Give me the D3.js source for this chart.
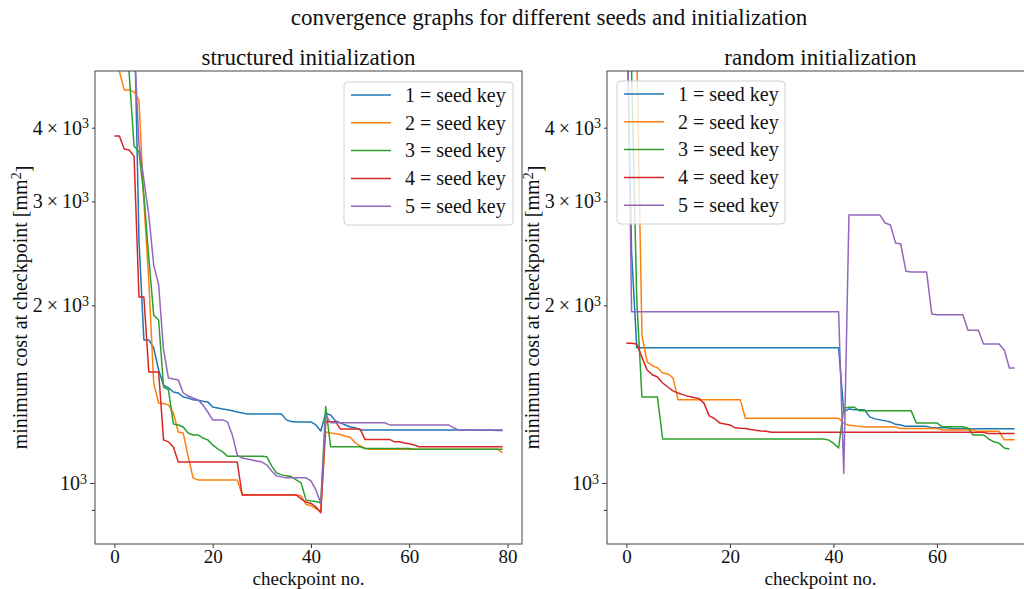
<!DOCTYPE html>
<html>
<head>
<meta charset="utf-8">
<script src="https://cdn.jsdelivr.net/npm/d3@7"></script>
<style>
  body { margin: 0; background: #fff; }
  svg { display: block; }
</style>
</head>
<body>
<svg id="chart" width="1024" height="589"></svg>
<script>
// Series names and colours (one per seed key)
const seedLabels = ["1 = seed key", "2 = seed key", "3 = seed key", "4 = seed key", "5 = seed key"];
const seedColors = ["#1f77b4", "#ff7f0e", "#2ca02c", "#d62728", "#9467bd"];

// Structured initialization: minimum cost per checkpoint 0..79
const structuredSeed1 = [9000, 8500, 8000, 7500, 6500, 2580, 1747, 1747, 1693, 1554, 1465, 1449, 1426, 1420, 1399, 1393, 1383, 1381, 1376, 1372, 1345, 1340, 1335, 1330, 1325, 1319, 1314,
  1309, 1309, 1309, 1309, 1309, 1309, 1309, 1309, 1279, 1271, 1269, 1269, 1269, 1269, 1254, 1225, 1311, 1304, 1274, 1264, 1254, 1244, 1240,
  1230, 1230, 1230, 1230, 1230, 1230, 1230, 1230, 1230, 1230, 1230, 1230, 1230, 1230, 1230, 1230, 1230, 1230, 1230, 1230, 1229, 1229, 1229, 1229, 1228, 1228, 1228, 1228, 1227, 1227];
const structuredSeed2 = [6000, 4990, 4635, 4635, 4600, 4450, 3000, 2200, 1477, 1366, 1363, 1356, 1314, 1220, 1215, 1110, 1020,
  1012, 1012, 1012, 1012, 1012, 1012, 1012, 1012, 1012,
  955, 955, 955, 955, 955, 955, 955, 955, 955, 955, 955, 955,
  950, 920, 915, 905, 895, 1220, 1215, 1212, 1208, 1200, 1195, 1170, 1155, 1145,
  1140, 1140, 1140, 1140, 1140, 1140, 1140, 1140, 1140, 1140, 1140, 1140, 1140, 1140, 1140, 1140, 1140, 1140, 1140, 1140, 1140, 1140, 1140, 1140, 1140, 1140, 1140, 1125];
const structuredSeed3 = [9000, 7500, 6000, 4950, 3725, 3640, 3075, 2403, 1925, 1889, 1454, 1438, 1259, 1254, 1244, 1215, 1206, 1206, 1192, 1183, 1160, 1142, 1130,
  1110, 1110, 1110, 1110, 1110, 1110, 1110, 1110, 1108,
  1069, 1040, 1032, 1028, 1025, 1012, 1000, 936, 932, 930, 925, 1347,
  1152, 1152, 1152, 1152, 1152, 1152, 1152,
  1144, 1144, 1144, 1144, 1144, 1144, 1144, 1144, 1144, 1144,
  1140, 1140, 1140, 1140, 1140, 1140, 1140, 1140, 1140, 1140, 1140, 1140, 1140, 1140, 1140, 1140, 1140, 1140, 1140];
const structuredSeed4 = [3874, 3874, 3680, 3667, 3580, 2066, 2066, 1542, 1542, 1542, 1183, 1174, 1151,
  1085, 1085, 1085, 1085, 1085, 1085, 1085, 1085, 1085, 1085, 1085, 1085, 1085,
  954, 954, 954, 954, 954, 954, 954, 954, 954, 954, 954, 954,
  940, 928, 923, 911, 890, 1270, 1270, 1270, 1234, 1234, 1234, 1234, 1234,
  1185, 1185, 1185, 1185, 1185, 1185, 1174, 1174, 1169, 1165, 1160,
  1152, 1152, 1152, 1152, 1152, 1152, 1152, 1152, 1152, 1152, 1152, 1152, 1152, 1152, 1152, 1152, 1152, 1152];
const structuredSeed5 = [9500, 9000, 8500, 8000, 5630, 3740, 3263, 2844, 2340, 2166, 1680, 1506, 1500, 1495, 1421, 1404, 1393, 1383, 1356, 1319,
  1279, 1279, 1279, 1269, 1206, 1115, 1102, 1098, 1094, 1089, 1085, 1073, 1048, 1028, 1024,
  1020, 1020, 1020, 1020, 1020, 1008, 973, 925, 1304,
  1265, 1265, 1265, 1265, 1265, 1265, 1265, 1265, 1265, 1265, 1265, 1265,
  1254, 1254, 1254, 1254, 1254, 1254, 1254, 1254, 1254, 1254, 1254, 1254, 1254, 1240,
  1230, 1230, 1230, 1230, 1230, 1230, 1230, 1230, 1230, 1230];

// Random initialization: minimum cost per checkpoint 0..75
const randomSeed1 = [6830, 2460,
  1695, 1695, 1695, 1695, 1695, 1695, 1695, 1695, 1695, 1695, 1695, 1695, 1695, 1695, 1695, 1695, 1695, 1695, 1695, 1695,
  1695, 1695, 1695, 1695, 1695, 1695, 1695, 1695, 1695, 1695, 1695, 1695, 1695, 1695, 1695, 1695, 1695, 1695, 1695, 1695,
  1320, 1335, 1330, 1330, 1330, 1294, 1284, 1279, 1274, 1269, 1257, 1254, 1247, 1247, 1247, 1247, 1247, 1240, 1240, 1240, 1240,
  1235, 1235, 1235, 1235, 1235, 1235, 1235, 1235, 1235, 1235, 1235, 1235, 1235];
const randomSeed2 = [8000, 7000, 5500, 1780, 1604, 1580, 1567, 1536, 1530, 1507,
  1383, 1383, 1383, 1383, 1383, 1383, 1383, 1383, 1383, 1383, 1383, 1383, 1383,
  1287, 1287, 1287, 1287, 1287, 1287, 1287, 1287, 1287, 1287, 1287, 1287, 1287, 1287, 1287, 1287, 1287, 1287, 1287,
  1262, 1252, 1250, 1247, 1244, 1244, 1244, 1244, 1244, 1244, 1244,
  1237, 1237, 1237, 1237, 1237, 1237, 1237, 1237, 1230, 1230, 1230, 1230, 1230, 1230, 1230,
  1223, 1223, 1223, 1223, 1223, 1183, 1183, 1183];
const randomSeed3 = [9000, 4990, 2043, 1398, 1398, 1398, 1398,
  1187, 1187, 1187, 1187, 1187, 1187, 1187, 1187, 1187, 1187, 1187, 1187, 1187, 1187, 1187, 1187, 1187,
  1187, 1187, 1187, 1187, 1187, 1187, 1187, 1187, 1187, 1187, 1187, 1187, 1187, 1187, 1187,
  1183, 1168, 1146, 1339, 1344, 1344,
  1326, 1326, 1326, 1326, 1326, 1326, 1326, 1326, 1326, 1326, 1326,
  1264, 1264, 1264, 1264, 1264, 1245, 1245, 1245, 1245, 1245, 1238, 1206, 1206, 1206, 1187, 1174, 1168, 1146, 1142];
const randomSeed4 = [1725, 1725, 1720, 1634, 1554, 1525, 1512, 1477, 1454, 1432, 1420, 1410, 1402, 1396, 1391, 1364, 1299, 1286, 1264, 1259, 1254, 1240, 1238, 1237, 1232, 1228, 1225, 1223,
  1219, 1219, 1219, 1219, 1219, 1219, 1219, 1219, 1219, 1219, 1219, 1219, 1219, 1219, 1219, 1219, 1219, 1219, 1219, 1219, 1219,
  1219, 1219, 1219, 1219, 1219, 1219, 1219, 1219, 1219, 1219, 1219, 1219, 1219, 1219, 1219, 1219, 1219, 1219, 1219, 1219, 1219,
  1213, 1213, 1213, 1213, 1213, 1213];
const randomSeed5 = [8000,
  1951, 1951, 1951, 1951, 1951, 1951, 1951, 1951, 1951, 1951, 1951, 1951, 1951, 1951, 1951, 1951, 1951, 1951, 1951, 1951,
  1951, 1951, 1951, 1951, 1951, 1951, 1951, 1951, 1951, 1951, 1951, 1951, 1951, 1951, 1951, 1951, 1951, 1951, 1951, 1951, 1951,
  1038, 2844, 2844, 2844, 2844, 2844, 2844, 2844, 2757, 2736, 2551, 2541, 2285, 2278, 2278, 2278, 2278, 1934,
  1928, 1928, 1928, 1928, 1928, 1928, 1815, 1815, 1815, 1720, 1720, 1720, 1720, 1680, 1566, 1566];

// Axis ticks
const xTicksStructured = [0, 20, 40, 60, 80];
const xTicksRandom = [0, 20, 40, 60];
const yMajorTicks = [1000];
const yMinorTicks = [900, 2000, 3000, 4000];
const yDomain = [788, 4990];

const svg = d3.select("#chart");
const FONT = "'Liberation Serif', 'DejaVu Serif', serif";
const TOP = 71, BOTTOM = 544;

svg.append("text")
  .attr("x", 549).attr("y", 25)
  .attr("text-anchor", "middle")
  .attr("font-family", FONT).attr("font-size", 23).attr("fill", "#111")
  .text("convergence graphs for different seeds and initialization");

function drawPanel(cfg) {
  const n = cfg.series[0].length - 1;
  const x = d3.scaleLinear().domain([-0.05 * n, 1.05 * n]).range([cfg.left, cfg.right]);
  const y = d3.scaleLog().domain(yDomain).range([BOTTOM, TOP]);
  const g = svg.append("g");

  const clipId = "clip-" + cfg.id;
  g.append("clipPath").attr("id", clipId)
    .append("rect").attr("x", cfg.left).attr("y", TOP)
    .attr("width", cfg.right - cfg.left).attr("height", BOTTOM - TOP);

  const line = d3.line().x((d, i) => x(i)).y(d => y(d));
  const lines = g.append("g").attr("clip-path", `url(#${clipId})`);
  cfg.series.forEach((s, k) => {
    lines.append("path").datum(s)
      .attr("d", line)
      .attr("fill", "none")
      .attr("stroke", seedColors[k])
      .attr("stroke-width", 1.5)
      .attr("stroke-linejoin", "round");
  });

  // x axis
  const xAxis = g.append("g").attr("transform", `translate(0,${BOTTOM})`)
    .call(d3.axisBottom(x).tickValues(cfg.xTicks).tickSize(4).tickSizeOuter(0).tickPadding(2));
  xAxis.select(".domain").remove();
  xAxis.selectAll(".tick line").attr("stroke", "#333");
  xAxis.selectAll(".tick text").attr("font-family", FONT).attr("font-size", 19).attr("fill", "#111");

  // y axis: minor ticks (labelled 2,3,4 x 10^3) and the major 10^3 tick
  const yMinor = g.append("g").attr("transform", `translate(${cfg.left},0)`)
    .call(d3.axisLeft(y).tickValues(yMinorTicks).tickSize(3).tickSizeOuter(0).tickFormat(() => "").tickPadding(5));
  yMinor.select(".domain").remove();
  yMinor.selectAll(".tick line").attr("stroke", "#333");
  yMinor.selectAll(".tick text").each(function (d) {
    if (d < 1000) return;
    const t = d3.select(this).attr("font-family", FONT).attr("font-size", 20).attr("fill", "#111").attr("dy", "0.32em").attr("x", -6);
    t.append("tspan").text(`${d / 1000}\u2009\u00d7\u200910`);
    t.append("tspan").attr("dy", "-0.45em").attr("font-size", 14).text("3");
  });
  const yMajor = g.append("g").attr("transform", `translate(${cfg.left},0)`)
    .call(d3.axisLeft(y).tickValues(yMajorTicks).tickSize(5).tickSizeOuter(0).tickFormat(() => "").tickPadding(5));
  yMajor.select(".domain").remove();
  yMajor.selectAll(".tick line").attr("stroke", "#333");
  yMajor.selectAll(".tick text").each(function () {
    const t = d3.select(this).attr("font-family", FONT).attr("font-size", 20).attr("fill", "#111").attr("dy", "0.32em").attr("x", -8);
    t.append("tspan").text("10");
    t.append("tspan").attr("dy", "-0.45em").attr("font-size", 14).text("3");
  });

  // frame
  g.append("rect").attr("x", cfg.left).attr("y", TOP)
    .attr("width", cfg.right - cfg.left).attr("height", BOTTOM - TOP)
    .attr("fill", "none").attr("stroke", "#444").attr("stroke-width", 1);

  // titles and labels
  const cx = (cfg.left + cfg.right) / 2;
  g.append("text").attr("x", cx).attr("y", 65).attr("text-anchor", "middle")
    .attr("font-family", FONT).attr("font-size", 23).attr("fill", "#111").text(cfg.title);
  g.append("text").attr("x", cx).attr("y", 585).attr("text-anchor", "middle")
    .attr("font-family", FONT).attr("font-size", 19).attr("fill", "#111").text("checkpoint no.");
  const yl = g.append("text")
    .attr("transform", `translate(${cfg.ylabelX},${(TOP + BOTTOM) / 2}) rotate(-90)`)
    .attr("text-anchor", "middle")
    .attr("font-family", FONT).attr("font-size", 20).attr("fill", "#111");
  yl.append("tspan").text("minimum cost at checkpoint [mm");
  yl.append("tspan").attr("dy", "-0.45em").attr("font-size", 14).text("2");
  yl.append("tspan").attr("dy", "0.45em").text("]");

  // legend
  const lg = g.append("g").attr("transform", `translate(${cfg.legendX},${cfg.legendY})`);
  lg.append("rect").attr("x", 0).attr("y", 0).attr("width", cfg.legendW).attr("height", 143)
    .attr("rx", 4).attr("fill", "#fff").attr("fill-opacity", 0.8)
    .attr("stroke", "#d0d0d0").attr("stroke-width", 1);
  seedLabels.forEach((lab, k) => {
    const yy = 13 + k * 27.8;
    lg.append("line").attr("x1", 7).attr("x2", 47).attr("y1", yy).attr("y2", yy)
      .attr("stroke", seedColors[k]).attr("stroke-width", 1.5);
    lg.append("text").attr("x", 61).attr("y", yy).attr("dy", "0.34em")
      .attr("font-family", FONT).attr("font-size", 20).attr("fill", "#111").text(lab);
  });
}

drawPanel({
  id: "structured", title: "structured initialization",
  series: [structuredSeed1, structuredSeed2, structuredSeed3, structuredSeed4, structuredSeed5],
  left: 95, right: 522, xTicks: xTicksStructured, ylabelX: 27,
  legendX: 344, legendY: 82, legendW: 169
});
drawPanel({
  id: "random", title: "random initialization",
  series: [randomSeed1, randomSeed2, randomSeed3, randomSeed4, randomSeed5],
  left: 607, right: 1034, xTicks: xTicksRandom, ylabelX: 539,
  legendX: 617, legendY: 81, legendW: 168
});
</script>
</body>
</html>
